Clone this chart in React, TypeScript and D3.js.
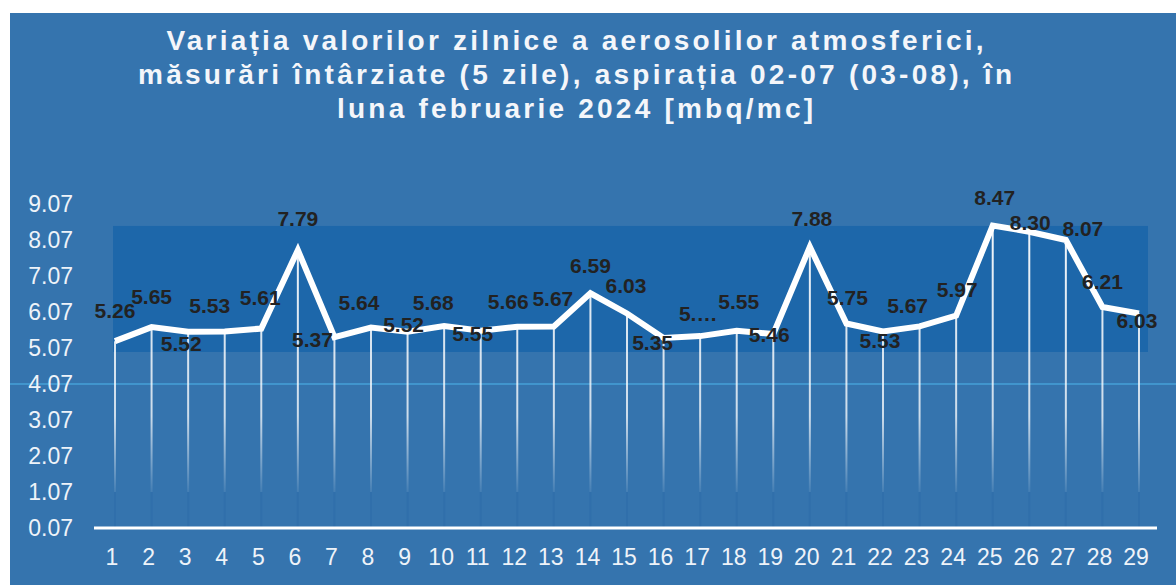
import React from "react";
import * as d3 from "d3";

const titleLines = [
  "Variația valorilor zilnice a aerosolilor atmosferici,",
  "măsurări întârziate (5 zile), aspirația 02-07 (03-08), în",
  "luna februarie 2024 [mbq/mc]",
];
const days = d3.range(1, 30).map(String);
const values = [
  5.26, 5.65, 5.52, 5.53, 5.61, 7.79, 5.37, 5.64, 5.52, 5.68, 5.55, 5.66, 5.67, 6.59, 6.03,
  5.35, 5.4, 5.55, 5.46, 7.88, 5.75, 5.53, 5.67, 5.97, 8.47, 8.3, 8.07, 6.21, 6.03,
];
const truncatedLabelDays = ["17"];
const yTicks = [0.07, 1.07, 2.07, 3.07, 4.07, 5.07, 6.07, 7.07, 8.07, 9.07];
const bandRange = [4.96, 8.46];
const refLineValue = 4.07;

// label placement offsets (layout only)
const labelOffsets: [number, number][] = [
  [0, -31], [0, -30], [-7, 12], [-15, -26], [-1, -31], [0, -31], [-22, 2], [-12, -25],
  [-4, -7], [-11, -23], [-8, 3], [-9, -25], [-1, -28], [0, -28], [-1, -28], [-11, 5],
  [-2, -22], [2, -29], [-4, 1], [2, -28], [1, -26], [-3, 9], [-12, -21], [1, -26],
  [2, -28], [1, -9], [17, -11], [0, -25], [-2, 7],
];

const W = 1176;
const H = 585;
const FONT = "'Liberation Sans', Arial, sans-serif";

export default function App() {
  const x = d3.scalePoint<string>().domain(days).range([115, 1139]);
  const y = d3.scaleLinear().domain([0.07, 9.07]).range([528, 204]);
  const line = d3
    .line<number>()
    .x((_, i) => x(days[i]) as number)
    .y((d) => y(d));

  return (
    <svg
      width={W}
      height={H}
      style={{ position: "absolute", left: 0, top: 0, background: "#fff" }}
    >
      <defs>
        <linearGradient id="drop" gradientUnits="userSpaceOnUse" x1="0" y1="220" x2="0" y2="500">
          <stop offset="0" stopColor="#ffffff" stopOpacity="0.95" />
          <stop offset="0.7" stopColor="#ffffff" stopOpacity="0.75" />
          <stop offset="1" stopColor="#ffffff" stopOpacity="0" />
        </linearGradient>
      </defs>
      <rect x={10} y={13} width={W - 10} height={H - 13} fill="#3574ae" />
      <rect
        x={113}
        y={y(bandRange[1])}
        width={1148 - 113}
        height={y(bandRange[0]) - y(bandRange[1])}
        fill="#1d67aa"
      />
      <line x1={10} x2={W} y1={y(refLineValue)} y2={y(refLineValue)} stroke="#4fb6ec" strokeWidth={1.2} />

      {titleLines.map((t, i) => (
        <text
          key={i}
          x={575}
          y={50 + i * 34}
          textAnchor="middle"
          fill="#f4f6fa"
          fontFamily={FONT}
          fontWeight="bold"
          fontSize={28}
          textLength={[817, 874, 476][i]}
          lengthAdjust="spacing"
        >
          {t}
        </text>
      ))}

      {yTicks.map((t) => (
        <text
          key={t}
          x={73}
          y={y(t)}
          dy="0.35em"
          textAnchor="end"
          fill="#eef3f9"
          fontFamily={FONT}
          fontSize={23}
        >
          {t.toFixed(2)}
        </text>
      ))}

      {values.map((v, i) => (
        <g key={i}>
          <line
            x1={x(days[i])}
            x2={x(days[i])}
            y1={y(v)}
            y2={y(1.07)}
            stroke="url(#drop)"
            strokeWidth={2}
          />
          <line
            x1={x(days[i])}
            x2={x(days[i])}
            y1={y(1.07)}
            y2={y(0.07)}
            stroke="#1d5f9e"
            strokeOpacity={0.2}
            strokeWidth={2}
          />
        </g>
      ))}

      <line x1={94} x2={1157} y1={y(0.07)} y2={y(0.07)} stroke="#ffffff" strokeWidth={3} />

      <path d={line(values) || ""} fill="none" stroke="#ffffff" strokeWidth={6} strokeLinejoin="miter" />

      {values.map((v, i) => (
        <text
          key={i}
          x={(x(days[i]) as number) + labelOffsets[i][0]}
          y={y(v) + labelOffsets[i][1]}
          dy="0.35em"
          textAnchor="middle"
          fill="#222222"
          fontFamily={FONT}
          fontWeight="bold"
          fontSize={21}
        >
          {truncatedLabelDays.includes(days[i]) ? "5.…" : v.toFixed(2)}
        </text>
      ))}

      {days.map((d) => (
        <text
          key={d}
          x={(x(d) as number) - 3}
          y={557}
          dy="0.35em"
          textAnchor="middle"
          fill="#eef3f9"
          fontFamily={FONT}
          fontSize={23}
        >
          {d}
        </text>
      ))}
    </svg>
  );
}
